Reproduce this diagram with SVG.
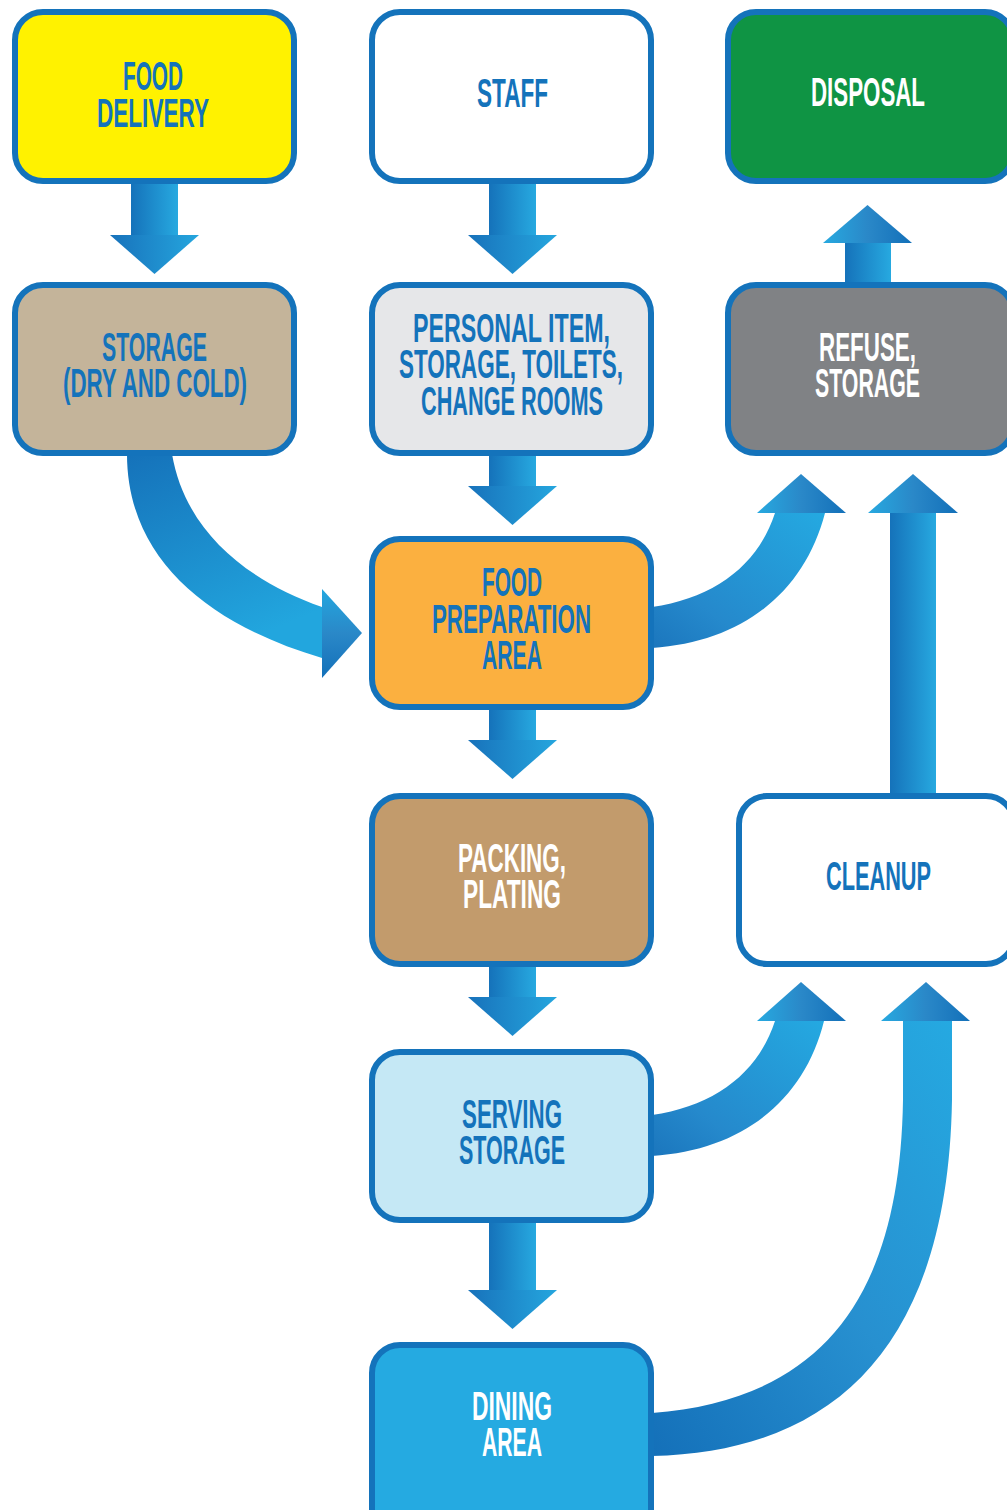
<svg xmlns="http://www.w3.org/2000/svg" width="1007" height="1510" viewBox="0 0 1007 1510">
<defs>
<linearGradient id="gShaft" x1="0" y1="0" x2="1" y2="0"><stop offset="0" stop-color="#1572ba"/><stop offset="1" stop-color="#27a9e0"/></linearGradient>
<linearGradient id="gHeadDown" x1="0" y1="0" x2="1" y2="0"><stop offset="0" stop-color="#1872bb"/><stop offset="1" stop-color="#25a6de"/></linearGradient>
<linearGradient id="gHeadUp" x1="0" y1="0" x2="1" y2="0"><stop offset="0" stop-color="#27a9e0"/><stop offset="0.5" stop-color="#2a88c8"/><stop offset="1" stop-color="#1370b9"/></linearGradient>
<linearGradient id="gCurve1" x1="0" y1="0" x2="0.4" y2="1"><stop offset="0" stop-color="#1572ba"/><stop offset="1" stop-color="#22a6de"/></linearGradient>
<linearGradient id="gHead1" x1="0" y1="0" x2="0" y2="1"><stop offset="0" stop-color="#24a7df"/><stop offset="0.5" stop-color="#2a88c8"/><stop offset="1" stop-color="#1370b9"/></linearGradient>
<linearGradient id="gCurve2" x1="0" y1="1" x2="1" y2="0"><stop offset="0" stop-color="#1b76bd"/><stop offset="0.3" stop-color="#2589cc"/><stop offset="1" stop-color="#24a9e1"/></linearGradient>
<linearGradient id="gCurve4" x1="0" y1="1" x2="1" y2="0"><stop offset="0" stop-color="#1470b9"/><stop offset="0.5" stop-color="#2790d0"/><stop offset="1" stop-color="#25a9e1"/></linearGradient>
</defs>
<style>
.node{stroke:#1473bb;stroke-width:6}
.t{font-family:"Liberation Sans Narrow","Liberation Sans",Arial,sans-serif;font-weight:bold;font-size:41px}
.b{fill:#1473bb}
.w{fill:#ffffff}
</style>
<g id="connectors">
<!-- straight down arrows -->
<rect x="131" y="182" width="47" height="54" fill="url(#gShaft)"/>
<path d="M110,235 L199,235 L154.5,274 Z" fill="url(#gHeadDown)"/>
<rect x="489" y="182" width="47" height="54" fill="url(#gShaft)"/>
<path d="M468,235 L557,235 L512.5,274 Z" fill="url(#gHeadDown)"/>
<rect x="489" y="454" width="47" height="33" fill="url(#gShaft)"/>
<path d="M468,486 L557,486 L512.5,525 Z" fill="url(#gHeadDown)"/>
<rect x="489" y="708" width="47" height="33" fill="url(#gShaft)"/>
<path d="M468,740 L557,740 L512.5,779 Z" fill="url(#gHeadDown)"/>
<rect x="489" y="965" width="47" height="33" fill="url(#gShaft)"/>
<path d="M468,997 L557,997 L512.5,1036 Z" fill="url(#gHeadDown)"/>
<rect x="489" y="1221" width="47" height="70" fill="url(#gShaft)"/>
<path d="M468,1290 L557,1290 L512.5,1329 Z" fill="url(#gHeadDown)"/>
<!-- up arrows -->
<rect x="845" y="242" width="46" height="42" fill="url(#gShaft)"/>
<path d="M823,243 L912,243 L867.5,205 Z" fill="url(#gHeadUp)"/>
<rect x="890" y="512" width="46" height="284" fill="url(#gShaft)"/>
<path d="M868,513 L958,513 L913,474 Z" fill="url(#gHeadUp)"/>
<!-- storage -> food prep -->
<path d="M127,454 C127,560 210,625 322,658 L322,607 C245,580 185,530 172,454 Z" fill="url(#gCurve1)"/>
<path d="M322,589 L362,633 L322,678 Z" fill="url(#gHead1)"/>
<!-- food prep -> refuse -->
<path d="M652,607 C715,598 758,565 775,513 L825,513 C805,590 745,642 652,648 Z" fill="url(#gCurve2)"/>
<path d="M757,513 L801,474 L846,513 Z" fill="url(#gHeadUp)"/>
<!-- serving -> cleanup -->
<path d="M652,1115 C715,1106 758,1073 775,1021 L824,1021 C805,1098 745,1150 652,1156 Z" fill="url(#gCurve2)"/>
<path d="M757,1021 L801,982 L846,1021 Z" fill="url(#gHeadUp)"/>
<!-- dining -> cleanup -->
<path d="M652,1413 C820,1400 900,1300 903,1100 L903,1020 L952,1020 L952,1100 C948,1340 840,1452 652,1456 Z" fill="url(#gCurve4)"/>
<path d="M881,1021 L926,982 L970,1021 Z" fill="url(#gHeadUp)"/>
</g>
<g id="food-delivery">
<rect class="node" x="15" y="12" width="279" height="169" rx="28" fill="#fff200"/>
<text class="t b" x="123" y="90" textLength="60" lengthAdjust="spacingAndGlyphs">FOOD</text>
<text class="t b" x="97" y="127" textLength="112" lengthAdjust="spacingAndGlyphs">DELIVERY</text>
</g>
<g id="staff">
<rect class="node" x="372" y="12" width="279" height="169" rx="28" fill="#ffffff"/>
<text class="t b" x="477" y="107" textLength="71" lengthAdjust="spacingAndGlyphs">STAFF</text>
</g>
<g id="disposal">
<rect class="node" x="728" y="12" width="285" height="169" rx="28" fill="#0f9444"/>
<text class="t w" x="811" y="106" textLength="114" lengthAdjust="spacingAndGlyphs">DISPOSAL</text>
</g>
<g id="storage-dry-cold">
<rect class="node" x="15" y="285" width="279" height="168" rx="28" fill="#c4b49a"/>
<text class="t b" x="102" y="361" textLength="105" lengthAdjust="spacingAndGlyphs">STORAGE</text>
<text class="t b" x="63" y="397" textLength="184" lengthAdjust="spacingAndGlyphs">(DRY AND COLD)</text>
</g>
<g id="personal-items">
<rect class="node" x="372" y="285" width="279" height="168" rx="28" fill="#e6e7e9"/>
<text class="t b" x="413" y="342" textLength="197" lengthAdjust="spacingAndGlyphs">PERSONAL ITEM,</text>
<text class="t b" x="399" y="378" textLength="224" lengthAdjust="spacingAndGlyphs">STORAGE, TOILETS,</text>
<text class="t b" x="421" y="415" textLength="182" lengthAdjust="spacingAndGlyphs">CHANGE ROOMS</text>
</g>
<g id="refuse-storage">
<rect class="node" x="728" y="285" width="285" height="168" rx="28" fill="#808285"/>
<text class="t w" x="819" y="361" textLength="97" lengthAdjust="spacingAndGlyphs">REFUSE,</text>
<text class="t w" x="815" y="397" textLength="105" lengthAdjust="spacingAndGlyphs">STORAGE</text>
</g>
<g id="food-preparation">
<rect class="node" x="372" y="539" width="279" height="168" rx="28" fill="#fbb040"/>
<text class="t b" x="482" y="596" textLength="60" lengthAdjust="spacingAndGlyphs">FOOD</text>
<text class="t b" x="432" y="633" textLength="159" lengthAdjust="spacingAndGlyphs">PREPARATION</text>
<text class="t b" x="482" y="669" textLength="60" lengthAdjust="spacingAndGlyphs">AREA</text>
</g>
<g id="packing-plating">
<rect class="node" x="372" y="796" width="279" height="168" rx="28" fill="#c29b6c"/>
<text class="t w" x="458" y="872" textLength="108" lengthAdjust="spacingAndGlyphs">PACKING,</text>
<text class="t w" x="463" y="908" textLength="98" lengthAdjust="spacingAndGlyphs">PLATING</text>
</g>
<g id="cleanup">
<rect class="node" x="739" y="796" width="275" height="168" rx="28" fill="#ffffff"/>
<text class="t b" x="826" y="890" textLength="105" lengthAdjust="spacingAndGlyphs">CLEANUP</text>
</g>
<g id="serving-storage">
<rect class="node" x="372" y="1052" width="279" height="168" rx="28" fill="#c5e8f5"/>
<text class="t b" x="462" y="1128" textLength="100" lengthAdjust="spacingAndGlyphs">SERVING</text>
<text class="t b" x="459" y="1164" textLength="106" lengthAdjust="spacingAndGlyphs">STORAGE</text>
</g>
<g id="dining-area">
<rect class="node" x="372" y="1345" width="279" height="200" rx="28" fill="#25aae1"/>
<text class="t w" x="472" y="1420" textLength="80" lengthAdjust="spacingAndGlyphs">DINING</text>
<text class="t w" x="482" y="1456" textLength="60" lengthAdjust="spacingAndGlyphs">AREA</text>
</g>
</svg>
